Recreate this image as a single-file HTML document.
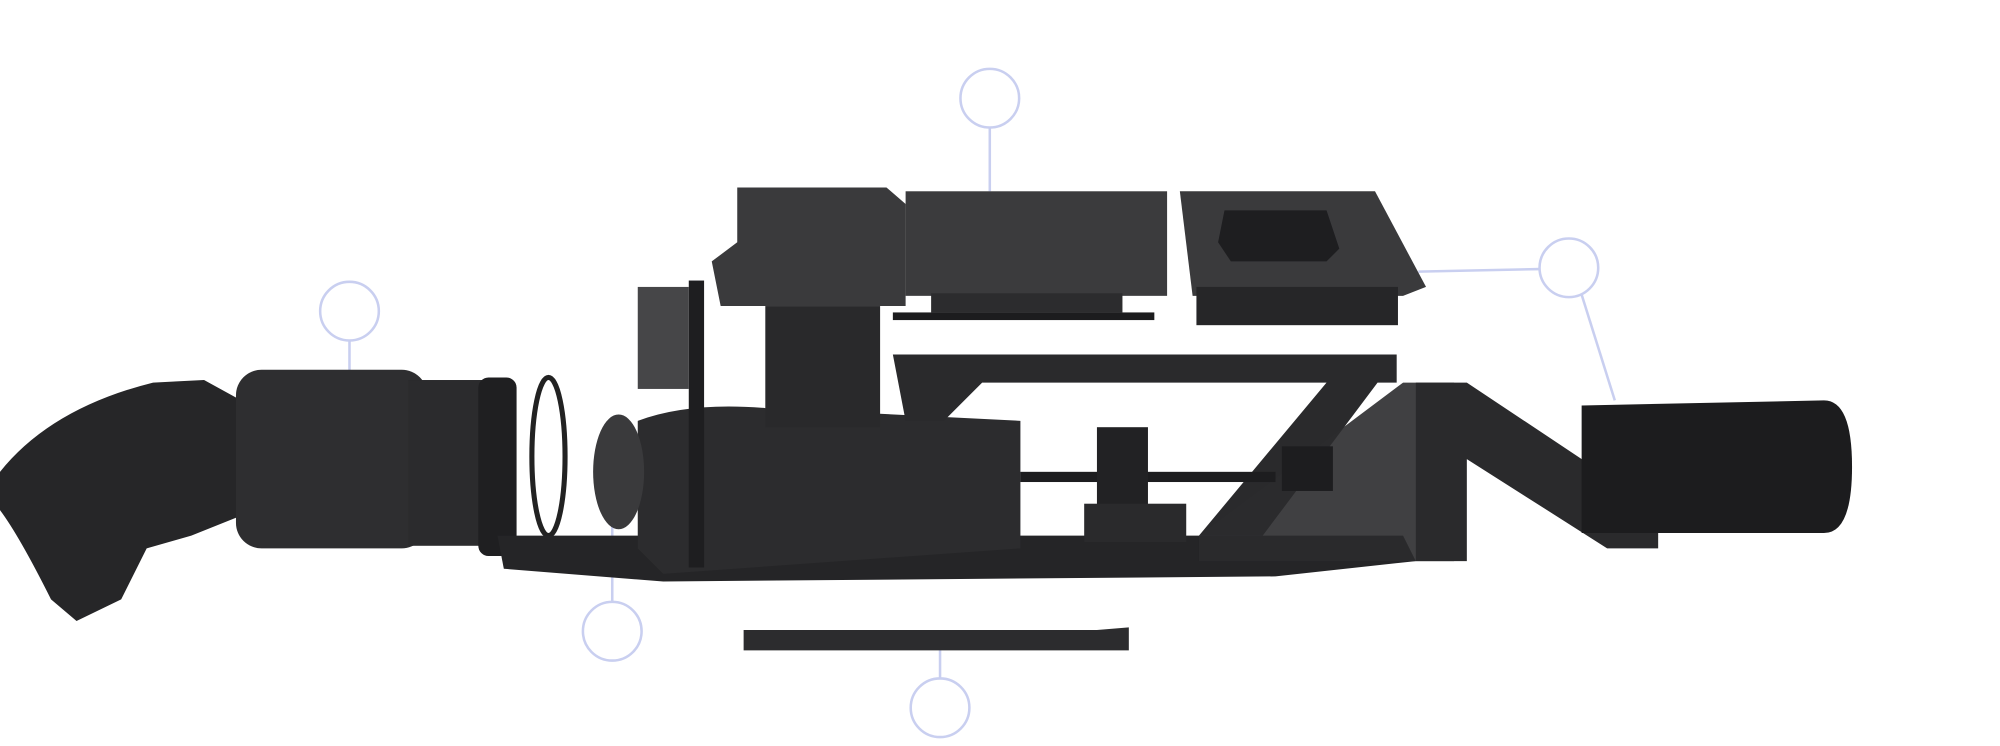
<!DOCTYPE html>
<html><head><meta charset="utf-8"><style>
html,body{margin:0;padding:0;background:#fff;}
svg{display:block;}
</style></head><body>
<svg width="2000" height="746" viewBox="0 0 1568 585" preserveAspectRatio="none" xmlns="http://www.w3.org/2000/svg">
<rect width="1568" height="585" fill="#fff"/>
<g stroke="#c9cff0" stroke-width="2" fill="none">
<circle cx="776" cy="77" r="23"/><line x1="776" y1="100" x2="776" y2="150"/>
<circle cx="274" cy="244" r="23"/><line x1="274" y1="267" x2="274" y2="318"/>
<circle cx="1230" cy="210" r="23"/><line x1="1207" y1="211" x2="1112" y2="213"/><line x1="1240" y1="231" x2="1266" y2="314"/>
<circle cx="480" cy="495" r="23"/><line x1="480" y1="472" x2="480" y2="405"/>
<circle cx="737" cy="555" r="23"/><line x1="737" y1="532" x2="737" y2="508"/>
</g>
<g fill="#2a2a2c">
<!-- intake -->
<path d="M0,370 Q40,320 120,300 L160,298 L200,320 L200,400 L150,420 L115,430 L95,470 L60,487 L40,470 Q15,420 0,400 Z" fill="#262628"/>
<!-- left module -->
<rect x="185" y="290" width="150" height="140" rx="20" fill="#2e2e30"/>
<rect x="320" y="298" width="60" height="130" fill="#2b2b2d"/>
<rect x="375" y="296" width="30" height="140" rx="8" fill="#1f1f21"/>
<ellipse cx="430" cy="358" rx="13" ry="62" fill="none" stroke="#222" stroke-width="4"/>
<!-- bottom plate -->
<path d="M390,420 L1100,420 L1110,440 L1000,452 L520,456 L395,446 Z" fill="#252527"/>
<!-- main tube -->
<path d="M500,330 Q540,315 600,320 L800,330 L800,430 L520,450 L500,430 Z" fill="#2c2c2e"/>
<ellipse cx="485" cy="370" rx="20" ry="45" fill="#3a3a3c"/>
<rect x="540" y="220" width="12" height="225" fill="#1e1e20"/>
<rect x="500" y="225" width="40" height="80" fill="#262628" opacity=".85"/>
<rect x="600" y="240" width="90" height="95" fill="#29292b"/>
<!-- frame -->
<path d="M700,278 L1095,278 L1095,300 L1080,300 L990,420 L940,420 L1040,300 L770,300 L740,330 L710,330 Z" fill="#2a2a2c"/>
<path d="M940,420 L1100,300 L1140,300 L1140,440 L940,440 Z" fill="#2b2b2d" opacity=".9"/>
<rect x="800" y="370" width="200" height="8" fill="#1d1d1f"/>
<rect x="860" y="335" width="40" height="70" fill="#222224"/>
<rect x="1005" y="350" width="40" height="35" fill="#1d1d1f"/>
<rect x="850" y="395" width="80" height="30" fill="#2a2a2c"/>
<!-- right bracket -->
<path d="M1110,300 L1150,300 L1300,400 L1300,430 L1260,430 L1150,360 L1150,440 L1110,440 Z" fill="#2a2a2c"/>
<!-- cylinder -->
<path d="M1240,318 L1430,314 Q1452,314 1452,366 Q1452,418 1430,418 L1240,418 Z" fill="#1c1c1e"/>
<!-- top boxes -->
<path d="M578,147 L695,147 L710,160 L710,240 L565,240 L558,205 L578,190 Z" fill="#3a3a3c"/>
<rect x="710" y="150" width="205" height="82" fill="#3b3b3d"/>
<rect x="730" y="230" width="150" height="15" fill="#2c2c2e"/>
<rect x="700" y="245" width="205" height="6" fill="#1c1c1e"/>
<path d="M925,150 L1078,150 L1118,225 L1100,232 L935,232 Z" fill="#3a3a3c"/>
<rect x="938" y="225" width="158" height="30" fill="#262628"/>
<path d="M960,165 L1040,165 L1050,195 L1040,205 L965,205 L955,190 Z" fill="#1e1e20"/>
<!-- bottom bar -->
<path d="M583,494 L860,494 L885,492 L885,510 L583,510 Z" fill="#2c2c2e"/>
</g>
</svg>
</body></html>
